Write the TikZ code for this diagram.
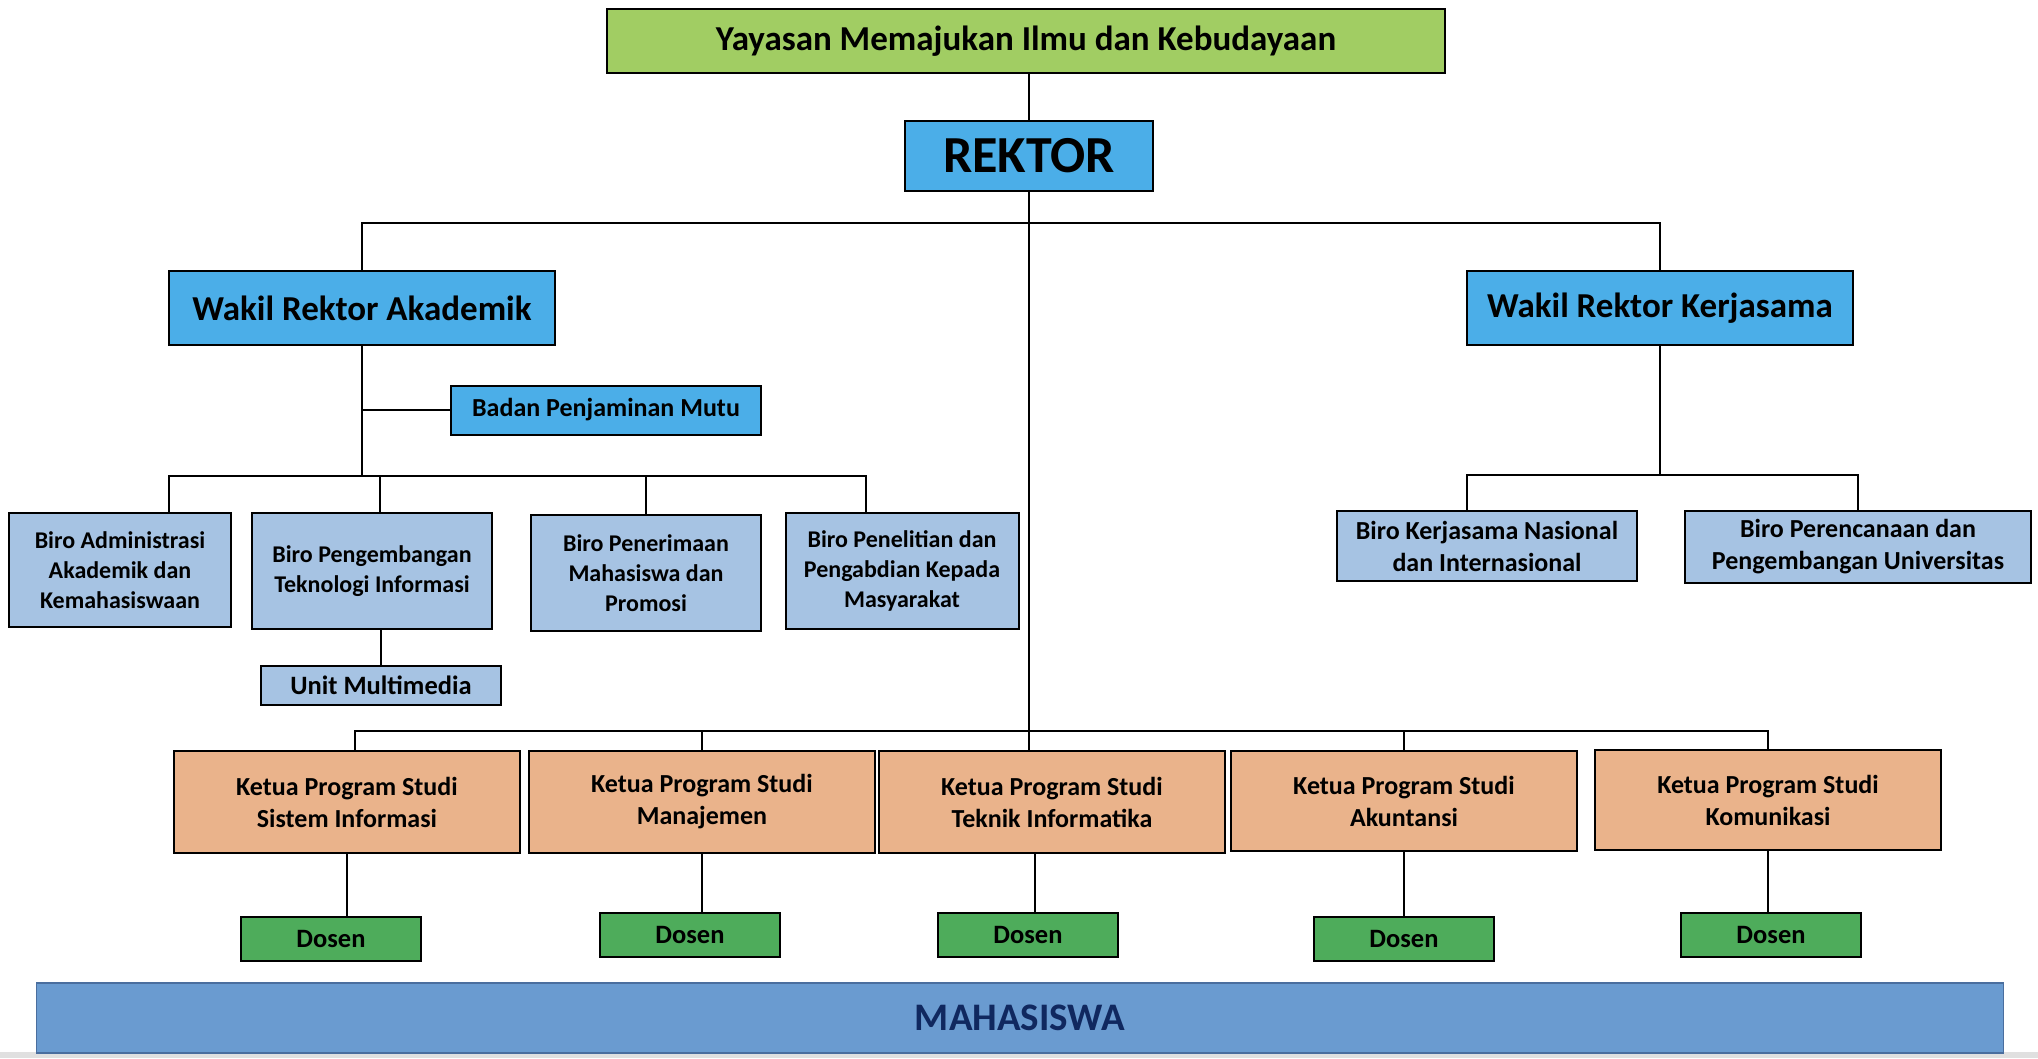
\documentclass[tikz,border=0pt]{standalone}
\usepackage{fontspec}
\setmainfont{Carlito}
\usepackage{tikz}
\usepackage{xcolor}
\usetikzlibrary{positioning, calc}

\definecolor{hijau}{HTML}{A1CD63}
\definecolor{birutua}{HTML}{4BAEE8}
\definecolor{birumuda}{HTML}{A6C3E3}
\definecolor{oranye}{HTML}{EAB38B}
\definecolor{hijautua}{HTML}{4EAC5B}
\definecolor{birumhs}{HTML}{6A9BD0}
\definecolor{garismhs}{HTML}{4A6E9E}
\definecolor{teksmhs}{HTML}{10285F}
\definecolor{abu}{HTML}{E0E0E0}

\begin{document}
\begin{tikzpicture}[x=1pt, y=-1pt,
    kotak/.style={draw, line width=2pt, inner sep=0pt, align=center},
    utama/.style={kotak, fill=birutua, minimum width=386, minimum height=74,
        font=\bfseries\fontsize{35}{42}\selectfont},
    biro/.style={kotak, fill=birumuda, font=\bfseries\fontsize{24}{30}\selectfont},
    kaprodi/.style={kotak, fill=oranye, minimum width=346, minimum height=102,
        font=\bfseries\fontsize{26}{32}\selectfont},
    dosen/.style={kotak, fill=hijautua, minimum width=180, minimum height=44,
        font=\bfseries\fontsize{26.5}{30}\selectfont},
    garis/.style={line width=1.6pt}]
    \useasboundingbox (0,0) rectangle (2038,1058);

    % pimpinan
    \node[kotak, fill=hijau, minimum width=838, minimum height=64,
        font=\bfseries\fontsize{35}{40}\selectfont] (yayasan) at (1026,41) {Yayasan Memajukan Ilmu dan Kebudayaan};
    \node[utama, minimum width=248, minimum height=70,
        font=\bfseries\fontsize{52}{58}\selectfont] (rektor) at (1029,156) {REKTOR};
    \node[utama] (wra) at (362,308) {Wakil Rektor Akademik};
    \node[utama] (wrk) at (1660,308) {Wakil Rektor Kerjasama};
    \node[kotak, fill=birutua, minimum width=310, minimum height=49,
        font=\bfseries\fontsize{26}{30}\selectfont] (bpm) at (606,410) {Badan Penjaminan Mutu};

    % biro akademik
    \node[biro, minimum width=222, minimum height=114] (badm) at (120,570) {Biro Administrasi\\Akademik dan\\Kemahasiswaan};
    \node[biro, minimum width=240, minimum height=116] (bpti) at (372,571) {Biro Pengembangan\\Teknologi Informasi};
    \node[biro, minimum width=230, minimum height=116] (bpmp) at (646,573) {Biro Penerimaan\\Mahasiswa dan\\Promosi};
    \node[biro, minimum width=233, minimum height=116] (bppkm) at (902,571) {Biro Penelitian dan\\Pengabdian Kepada\\Masyarakat};
    \node[biro, minimum width=240, minimum height=39,
        font=\bfseries\fontsize{26.5}{30}\selectfont] (umm) at (381,685) {Unit Multimedia};

    % biro kerjasama
    \node[biro, minimum width=300, minimum height=70,
        font=\bfseries\fontsize{26}{32}\selectfont] (bkni) at (1487,546) {Biro Kerjasama Nasional\\dan Internasional};
    \node[biro, minimum width=346, minimum height=72,
        font=\bfseries\fontsize{26}{32}\selectfont] (bppu) at (1858,547) {Biro Perencanaan dan\\Pengembangan Universitas};

    % program studi
    \node[kaprodi] (kpsi) at (347,802) {Ketua Program Studi\\Sistem Informasi};
    \node[kaprodi] (kpm) at (702,802) {Ketua Program Studi\\Manajemen};
    \node[kaprodi] (kpti) at (1052,802) {Ketua Program Studi\\Teknik Informatika};
    \node[kaprodi, minimum height=100] (kpak) at (1404,801) {Ketua Program Studi\\Akuntansi};
    \node[kaprodi, minimum height=100] (kpkom) at (1768,800) {Ketua Program Studi\\Komunikasi};

    \node[dosen] (ds1) at (331,939) {Dosen};
    \node[dosen] (ds2) at (690,935) {Dosen};
    \node[dosen] (ds3) at (1028,935) {Dosen};
    \node[dosen] (ds4) at (1404,939) {Dosen};
    \node[dosen] (ds5) at (1771,935) {Dosen};

    % mahasiswa
    \fill[abu] (0,1052) rectangle (2038,1058);
    \node[draw=garismhs, line width=1.5pt, fill=birumhs, minimum width=1967, minimum height=70,
        text=teksmhs, font=\bfseries\fontsize{39}{44}\selectfont] (mhs) at (1020,1018) {MAHASISWA};

    % garis
    \coordinate (cabangwr) at (1029,223);
    \coordinate (cabanga) at (362,476);
    \coordinate (cabangk) at (1660,475);
    \coordinate (cabangp) at (1029,731);

    \draw[garis] (rektor.north) -- (rektor.north |- yayasan.south);
    \draw[garis] (wra.north) |- (cabangwr) -| (wrk.north);
    \draw[garis] (rektor.south) -- (rektor.south |- kpti.north);

    \draw[garis] (wra.south) -- (cabanga);
    \draw[garis] (bpm.west) -- (bpm.west -| wra.south);
    \draw[garis] ([xshift=49]badm.north) |- (cabanga) -| ([xshift=-36]bppkm.north);
    \draw[garis] ([xshift=8]bpti.north) -- ([xshift=8]bpti.north |- cabanga);
    \draw[garis] (bpmp.north) -- (bpmp.north |- cabanga);
    \draw[garis] (umm.north) -- (umm.north |- bpti.south);

    \draw[garis] (wrk.south) -- (cabangk);
    \draw[garis] ([xshift=-20]bkni.north) |- (cabangk) -| (bppu.north);

    \draw[garis] ([xshift=8]kpsi.north) |- (cabangp) -| (kpkom.north);
    \draw[garis] (kpm.north) -- (kpm.north |- cabangp);
    \draw[garis] (kpak.north) -- (kpak.north |- cabangp);

    \foreach \k/\d in {kpsi/ds1, kpm/ds2, kpak/ds4, kpkom/ds5}
        \draw[garis] (\k.south) -- (\k.south |- \d.north);
    \draw[garis] ([xshift=7]ds3.north) -- ([xshift=7]ds3.north |- kpti.south);
\end{tikzpicture}
\end{document}
